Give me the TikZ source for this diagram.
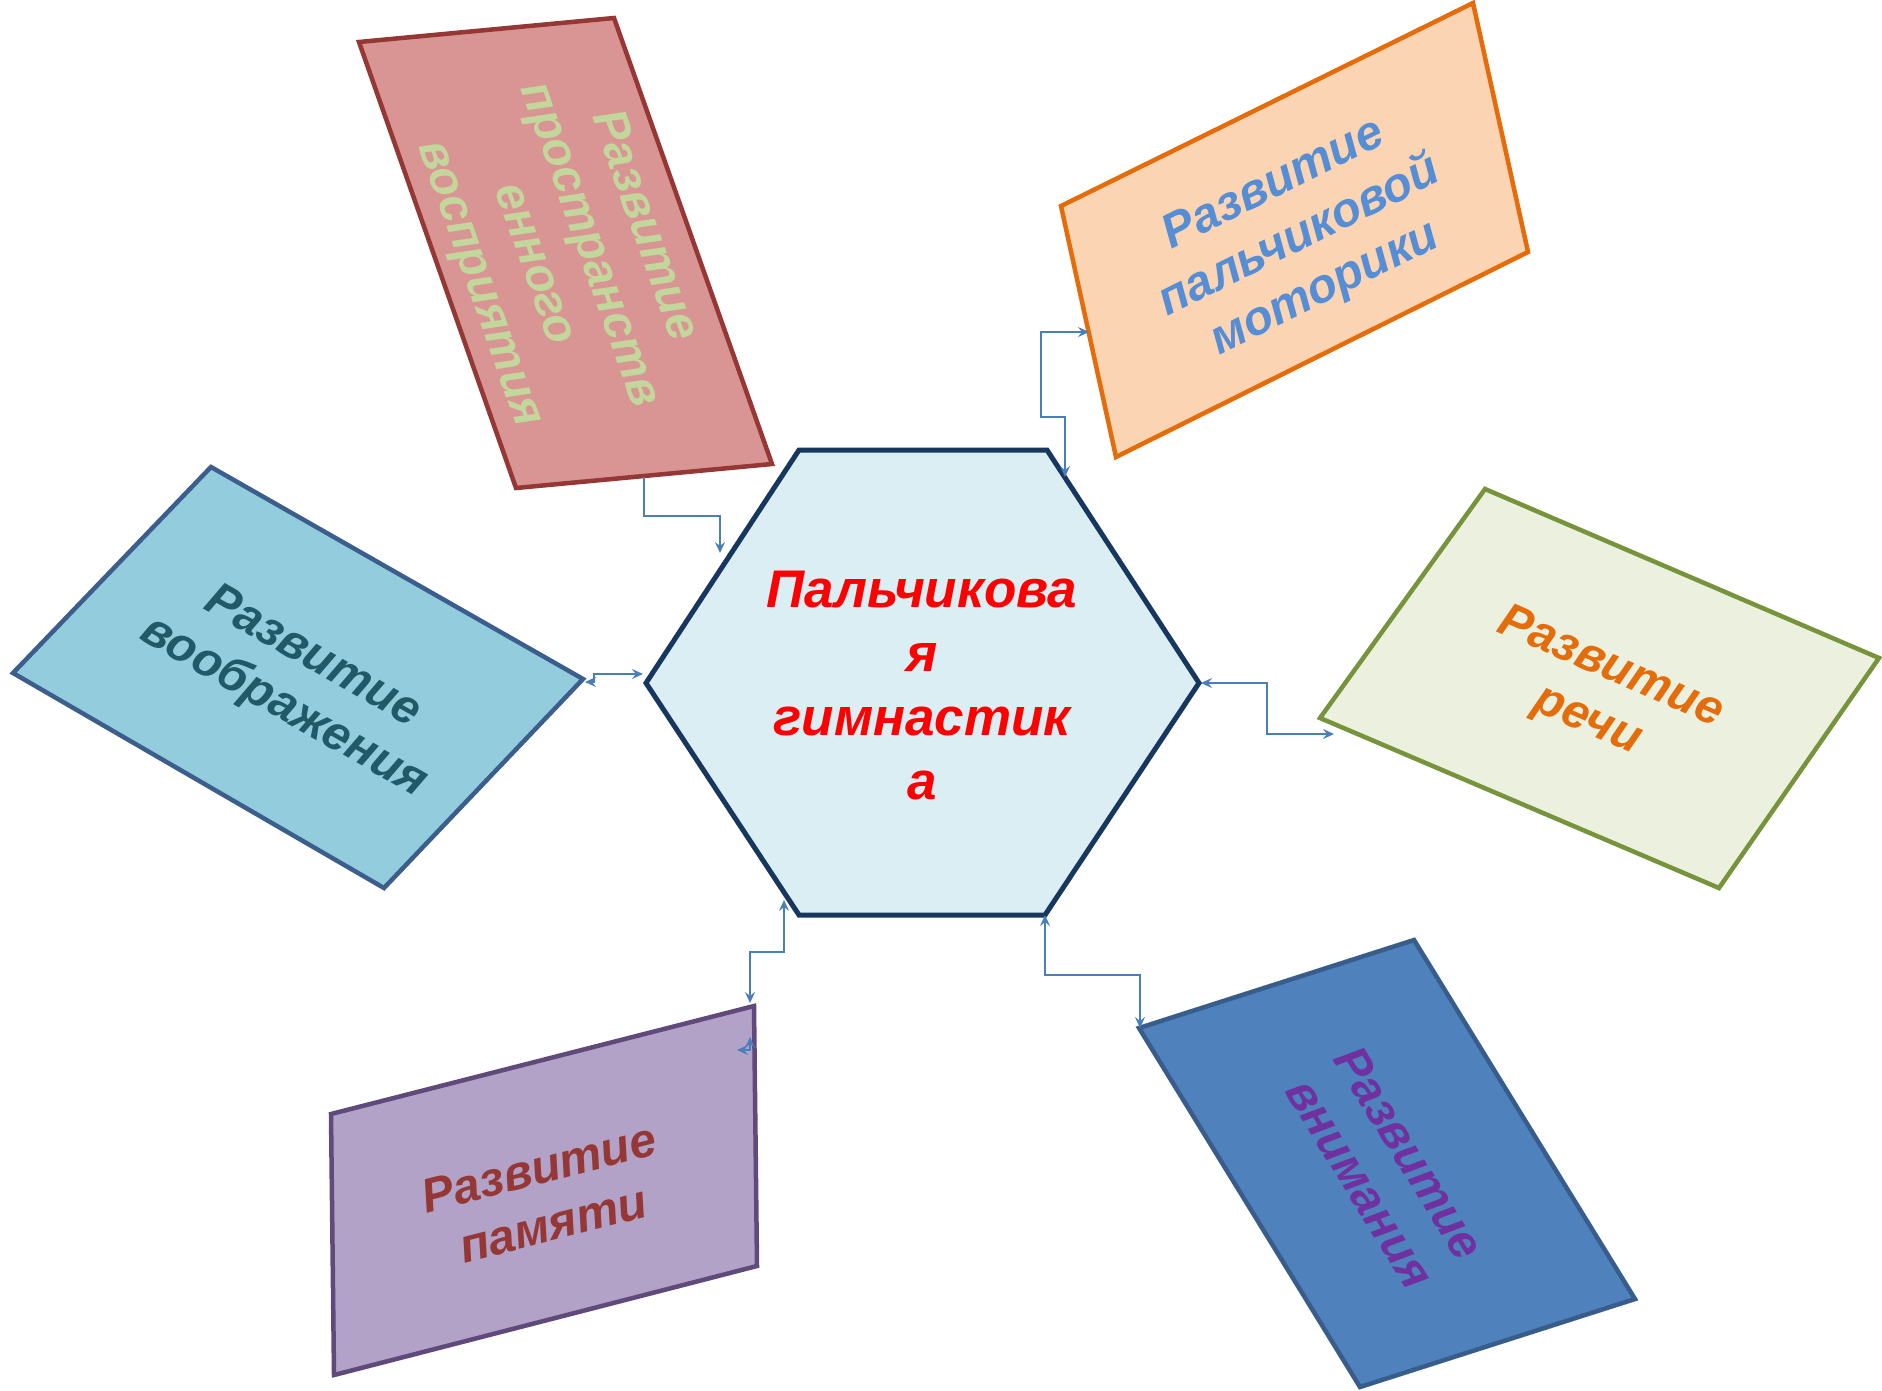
\documentclass[tikz,border=0pt]{standalone}
\usepackage{fontspec}
\setmainfont{Liberation Sans}
\usetikzlibrary{arrows.meta}
\definecolor{hexfill}{HTML}{DBEEF4}
\definecolor{hexdraw}{HTML}{17375E}
\definecolor{redfill}{HTML}{D99594}
\definecolor{reddraw}{HTML}{953735}
\definecolor{redtext}{HTML}{C3D69B}
\definecolor{orfill}{HTML}{FBD4B4}
\definecolor{ordraw}{HTML}{E46C0A}
\definecolor{ortext}{HTML}{558ED5}
\definecolor{grfill}{HTML}{EBF1DE}
\definecolor{grdraw}{HTML}{77933C}
\definecolor{grtext}{HTML}{E46C0A}
\definecolor{blfill}{HTML}{4F81BD}
\definecolor{bldraw}{HTML}{385D8A}
\definecolor{bltext}{HTML}{7030A0}
\definecolor{pufill}{HTML}{B3A2C7}
\definecolor{pudraw}{HTML}{604A7B}
\definecolor{putext}{HTML}{953735}
\definecolor{cyfill}{HTML}{93CDDD}
\definecolor{cydraw}{HTML}{3B5E8C}
\definecolor{cytext}{HTML}{215968}
\definecolor{conncol}{HTML}{4A7EBB}
\tikzset{
  boxshape/.style={line width=4.5pt, line join=miter},
  boxtext/.style={align=center, font=\fontsize{48}{58}\selectfont\bfseries\itshape, inner sep=0pt},
  conn/.style={draw=conncol, line width=1.8pt},
  tip/.tip={Stealth[length=11pt,width=10pt,inset=4pt]}
}
\begin{document}
\begin{tikzpicture}[x=1pt,y=-1pt]
\useasboundingbox (0,0) rectangle (1882,1390);
\fill[white] (0,0) rectangle (1882,1390);

% shapes
\filldraw[boxshape, fill=redfill, draw=reddraw] (359,42) -- (614,18) -- (772,464) -- (516,488) -- cycle;
\filldraw[boxshape, fill=orfill, draw=ordraw] (1061,206) -- (1473,3) -- (1528,252) -- (1116,457) -- cycle;
\filldraw[boxshape, fill=grfill, draw=grdraw] (1485,489) -- (1879,658) -- (1719,888) -- (1320,718) -- cycle;
\filldraw[boxshape, fill=blfill, draw=bldraw] (1139,1028) -- (1414,940) -- (1635,1299) -- (1360,1387) -- cycle;
\filldraw[boxshape, fill=pufill, draw=pudraw] (331,1114) -- (754,1006) -- (757,1266) -- (334,1375) -- cycle;
\filldraw[boxshape, fill=cyfill, draw=cydraw] (211,467) -- (583,679) -- (384,888) -- (13,673) -- cycle;
\filldraw[line width=5pt, line join=miter, fill=hexfill, draw=hexdraw]
  (799,450) -- (1047,450) -- (1199,683) -- (1045,915) -- (799,915) -- (646,683) -- cycle;

% texts
\node[boxtext, text=redtext, rotate=-70.6] (tred) at (561,255) {Развитие\\пространств\\енного\\восприятия};
\node[boxtext, text=ortext, rotate=26.4] (tor) at (1300,238) {Развитие\\пальчиковой\\моторики};
\node[boxtext, text=grtext, rotate=-23.5] (tgr) at (1599,695) {Развитие\\речи};
\node[boxtext, text=bltext, rotate=-58.4] (tbl) at (1385,1168) {Развитие\\внимания};
\node[boxtext, text=putext, rotate=14.3] (tpu) at (546,1196) {Развитие\\памяти};
\node[boxtext, text=cytext, rotate=-29.7] (tcy) at (298,683) {Развитие\\воображения};
\node[align=center, text=red, inner sep=0pt, font=\fontsize{53}{64}\selectfont\bfseries\itshape] (hex) at (922,686) {Пальчикова\\я\\гимнастик\\а};

% connector end points
\coordinate (r1) at (644,477);
\coordinate (h1) at (720,553);
\coordinate (h2) at (1065,477);
\coordinate (o1) at (1089,332);
\coordinate (h3) at (643,674);
\coordinate (c1) at (585,682);
\coordinate (h4) at (1201,683);
\coordinate (g1) at (1334,734);
\coordinate (h5) at (784,900);
\coordinate (p1) at (750,1003);
\coordinate (h6) at (1045,915);
\coordinate (b1) at (1140,1028);
\coordinate (x1) at (737,1050);
\coordinate (x2) at (750,1037);

% connectors
\draw[conn,-tip] (r1) -- ++(0,39) -| (h1);
\draw[conn,tip-tip] (h2) |- ++(-24,-60) |- (o1);
\draw[conn,tip-tip] (h3) -| ++(-49,8) -- (c1);
\draw[conn,tip-tip] (h4) -| ++(66,51) -- (g1);
\draw[conn,tip-tip] (h5) |- ++(-34,52) -- (p1);
\draw[conn,tip-tip] (h6) |- ++(95,60) -- (b1);
\draw[conn,tip-tip] (x1) -| (x2);
\end{tikzpicture}
\end{document}
